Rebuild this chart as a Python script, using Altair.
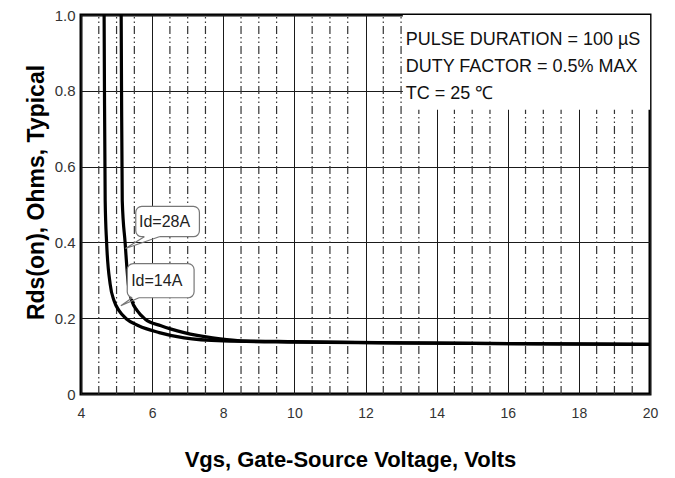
import altair as alt
import pandas as pd

# ---- data ----
vgs_14a = [4.65, 4.66, 4.68, 4.72, 4.82, 4.93, 5.07, 5.28, 5.62, 6.2, 6.9, 8.0, 10.0, 14.0, 20.0]
rds_14a = [1.0, 0.8, 0.51, 0.4, 0.29, 0.246, 0.22, 0.198, 0.18, 0.162, 0.148, 0.14, 0.137, 0.134, 0.131]
vgs_28a = [5.13, 5.14, 5.16, 5.24, 5.33, 5.43, 5.58, 5.8, 6.25, 6.9, 7.7, 8.4, 10.0, 14.0, 20.0]
rds_28a = [1.0, 0.8, 0.51, 0.4, 0.29, 0.246, 0.22, 0.198, 0.18, 0.162, 0.148, 0.141, 0.138, 0.134, 0.131]

x_ticks = [4, 6, 8, 10, 12, 14, 16, 18, 20]
y_ticks = [0, 0.2, 0.4, 0.6, 0.8, 1.0]
minor_x = [4.5, 5, 5.5, 6.5, 7, 7.5, 8.5, 9, 9.5, 10.5, 11, 11.5, 12.5, 13, 13.5,
           14.5, 15, 15.5, 16.5, 17, 17.5, 18.5, 19, 19.5]

# annotation callouts (data units)
ann_labels = ["Id=28A", "Id=14A"]
ann_text_x = [5.63, 5.41]
ann_text_y = [0.455, 0.299]
ann_box_x1 = [5.54, 5.30]
ann_box_x2 = [7.33, 7.18]
ann_box_y1 = [0.415, 0.254]
ann_box_y2 = [0.495, 0.344]
ann_tip_x = [5.25, 5.12]
ann_tip_y = [0.384, 0.233]
ann_base_xa = [5.78, 5.44]
ann_base_xb = [6.2, 5.63]

note_lines = ["PULSE DURATION = 100 \u00b5S", "DUTY FACTOR = 0.5% MAX", "TC = 25 \u2103"]
note_x = 13.13
note_y = [0.934, 0.862, 0.792]
note_box = {"x": [13.05], "x2": [20.0], "y": [0.75], "y2": [1.0]}

FONT = "Liberation Sans"

curves = pd.concat([
    pd.DataFrame({"x": vgs_14a, "y": rds_14a, "id": "14A"}),
    pd.DataFrame({"x": vgs_28a, "y": rds_28a, "id": "28A"}),
])

xscale = alt.Scale(domain=[4, 20], nice=False, zero=False)
yscale = alt.Scale(domain=[0, 1], nice=False)

xaxis = alt.Axis(values=x_ticks, grid=True, gridColor="#1a1a1a", gridWidth=1,
                 domain=False, ticks=False, tickSize=0, labelFlush=False, labelOverlap=False,
                 labelFont=FONT, labelFontSize=14, labelColor="#333", labelPadding=12,
                 title="Vgs, Gate-Source Voltage, Volts", titleFont=FONT, titleFontSize=22,
                 titleFontWeight="bold", titleColor="black", titleX=269, titleY=72,
                 titleAlign="center", titleBaseline="alphabetic")
yaxis = alt.Axis(values=y_ticks, grid=True, gridColor="#1a1a1a", gridWidth=1,
                 domain=False, ticks=False, tickSize=0, labelFlush=False, labelOverlap=False,
                 labelExpr="datum.value == 0 ? '0' : format(datum.value, '.1f')",
                 labelFont=FONT, labelFontSize=15, labelColor="#333", labelPadding=6,
                 title="Rds(on), Ohms, Typical", titleFont=FONT, titleFontSize=23,
                 titleFontWeight="bold", titleColor="black", titleAngle=270, titleX=-38,
                 titleY=177, titleAlign="center", titleBaseline="alphabetic")

X = alt.X("x:Q", scale=xscale, axis=xaxis)
Y = alt.Y("y:Q", scale=yscale, axis=yaxis)

minor = alt.Chart(pd.DataFrame({"x": minor_x})).mark_rule(
    color="#333", strokeWidth=1.2, strokeDash=[8, 3, 1.5, 3, 1.5, 3]
).encode(x=X, y=alt.datum(0, scale=yscale), y2=alt.datum(1))

note_bg = alt.Chart(pd.DataFrame(note_box)).mark_rect(fill="white", stroke=None).encode(
    x=X, x2="x2:Q", y=Y, y2="y2:Q")

note_text = alt.Chart(pd.DataFrame({"x": note_x, "y": note_y, "t": note_lines})).mark_text(
    align="left", baseline="middle", font=FONT, fontSize=18, color="#111"
).encode(x=X, y=Y, text="t:N")

lines = alt.Chart(curves).mark_line(color="black", strokeWidth=3.2, interpolate="monotone").encode(
    x=X, y=Y, detail="id:N")

ann = pd.DataFrame({"t": ann_labels, "tx": ann_text_x, "ty": ann_text_y,
                    "x": ann_box_x1, "x2": ann_box_x2, "y": ann_box_y1, "y2": ann_box_y2})
boxes = alt.Chart(ann).mark_rect(fill="white", stroke="#777", strokeWidth=1.2, cornerRadius=6).encode(
    x=X, x2="x2:Q", y=Y, y2="y2:Q")
base_cover = alt.Chart(pd.DataFrame({"x": ann_base_xa, "x2": ann_base_xb, "y": ann_box_y1})).mark_rule(
    color="white", strokeWidth=2.5).encode(x=X, x2="x2:Q", y=Y)

ptr_rows = []
for i in range(len(ann_labels)):
    ptr_rows += [
        {"x": ann_base_xa[i], "y": ann_box_y1[i], "o": 0, "k": i},
        {"x": ann_tip_x[i], "y": ann_tip_y[i], "o": 1, "k": i},
        {"x": ann_base_xb[i], "y": ann_box_y1[i], "o": 2, "k": i},
    ]
pointers = alt.Chart(pd.DataFrame(ptr_rows)).mark_line(color="#777", strokeWidth=1.2).encode(
    x=X, y=Y, order="o:Q", detail="k:N")
ann_text = alt.Chart(ann).mark_text(align="left", baseline="middle", font=FONT, fontSize=16,
                                    color="#222").encode(
    x=alt.X("tx:Q", scale=xscale, axis=xaxis), y=alt.Y("ty:Q", scale=yscale, axis=yaxis), text="t:N")

chart = alt.layer(minor, note_bg, note_text, lines, boxes, base_cover, pointers, ann_text).properties(
    width=569, height=379, autosize="none",
    padding={"left": 73, "top": 7, "right": 17, "bottom": 80},
    background="white",
).configure_view(stroke="black", strokeWidth=3)

chart.save("out.html", embed_options={"renderer": "svg", "actions": False})
